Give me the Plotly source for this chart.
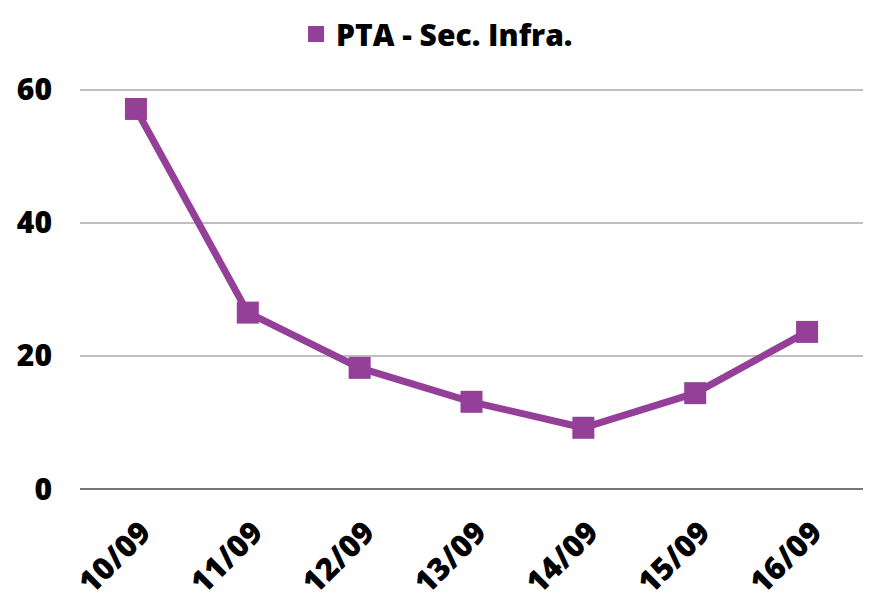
import plotly.graph_objects as go

categories = ["10/09", "11/09", "12/09", "13/09", "14/09", "15/09", "16/09"]
values = [57.1, 26.5, 18.2, 13.1, 9.2, 14.4, 23.6]
y_ticks = [0, 20, 40, 60]
series_name = "PTA - Sec. Infra."

color = "#943f98"
font_family = "Open Sans"

fig = go.Figure()
fig.add_trace(go.Scatter(
    x=categories, y=values, name=series_name,
    mode="lines+markers",
    line=dict(color=color, width=7),
    marker=dict(symbol="square", size=22, color=color),
    cliponaxis=False, showlegend=False,
))
# legend-only entry (square symbol, as in the reference)
fig.add_trace(go.Scatter(
    x=[None], y=[None], name=series_name, mode="markers",
    marker=dict(symbol="square", size=22, color=color),
    showlegend=True,
))

# page body has an 8px default margin -> figure is 865x593
fig.update_layout(
    width=865, height=593,
    margin=dict(l=72, r=10, t=75, b=112, autoexpand=False),
    paper_bgcolor="white", plot_bgcolor="white",
    showlegend=True,
    legend=dict(
        orientation="h", xref="container", yref="container",
        x=0.496, xanchor="center", y=1.0, yanchor="top",
        font=dict(family=font_family, size=30, color="black", weight=800),
        itemsizing="trace",
    ),
    font=dict(family=font_family, color="black"),
)
fig.update_xaxes(
    type="category", range=[-0.5, 6.5],
    tickangle=-45, automargin=False,
    tickfont=dict(family=font_family, size=31, color="black", weight=800),
    showgrid=False, showline=False, zeroline=False,
    ticks="", ticklabelstandoff=18, ticklabelshift=6,
)
fig.update_yaxes(
    range=[0, 61], tickvals=y_ticks, automargin=False,
    tickfont=dict(family=font_family, size=30, color="black", weight=800),
    showgrid=True, gridcolor="#bfbfbf", gridwidth=2,
    zeroline=True, zerolinecolor="#767676", zerolinewidth=2,
    showline=False, ticks="", ticklabelstandoff=27,
)

fig.write_html("out.html")
